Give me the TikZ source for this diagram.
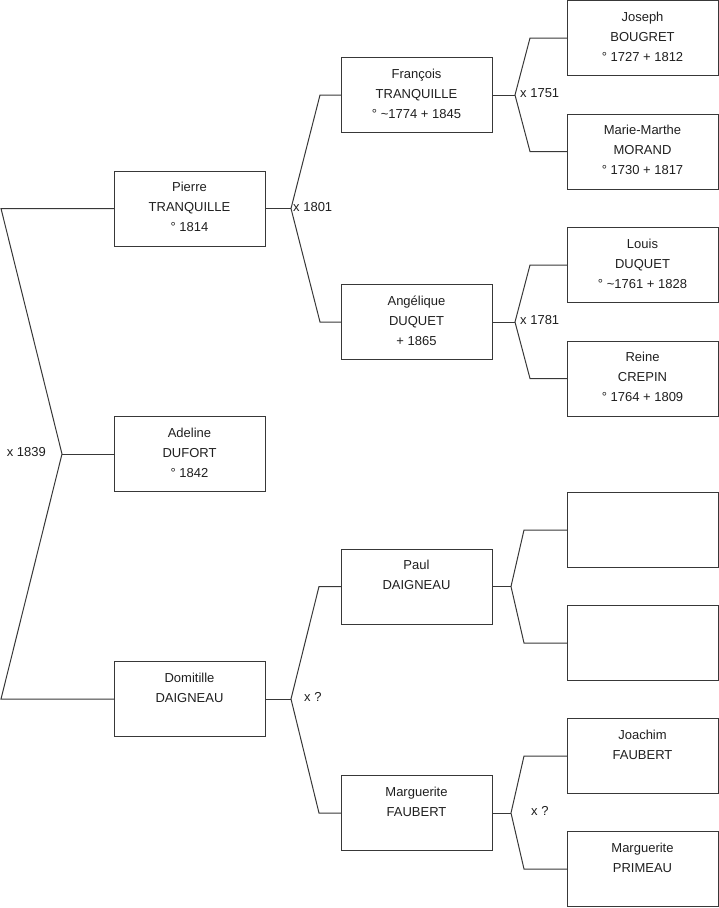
\documentclass[tikz,border=0pt]{standalone}
\usepackage{fontspec}
\setmainfont{Liberation Sans}
\begin{document}
\begin{tikzpicture}[x=1pt,y=-1pt]
\tikzset{
  box/.style={draw=black!78, line width=1pt, minimum width=151pt, minimum height=75pt, inner sep=0pt, outer sep=0pt, anchor=north west},
  txt/.style={anchor=north, inner sep=0pt, align=center, font=\fontsize{13}{20}\selectfont, text=black!88, execute at begin node={\rule{0pt}{10pt}}},
  link/.style={draw=black!78, line width=1pt},
  lbl/.style={inner sep=0pt, font=\fontsize{13}{16}\selectfont, text=black!88}
}
\useasboundingbox (0,0) rectangle (719,908);

% column 1
\node[box] (pierre) at (114,171) {};
\node[box] (adeline) at (114,416.5) {};
\node[box] (domitille) at (114,661.5) {};
% column 2
\node[box] (francois) at (341,57.5) {};
\node[box] (angelique) at (341,284.5) {};
\node[box] (paul) at (341,549) {};
\node[box] (margf) at (341,775.5) {};
% column 3
\node[box] (joseph) at (567,0.5) {};
\node[box] (marie) at (567,114) {};
\node[box] (louis) at (567,227.5) {};
\node[box] (reine) at (567,341) {};
\node[box] (empty1) at (567,492.5) {};
\node[box] (empty2) at (567,605.5) {};
\node[box] (joachim) at (567,718.5) {};
\node[box] (primeau) at (567,831.5) {};

% texts
\node[txt] (pierre-t) at ([yshift=-11pt]pierre.north) {Pierre\\TRANQUILLE\\° 1814};
\node[txt] (adeline-t) at ([yshift=-11pt]adeline.north) {Adeline\\DUFORT\\° 1842};
\node[txt] (domitille-t) at ([yshift=-11pt]domitille.north) {Domitille\\DAIGNEAU};
\node[txt] (francois-t) at ([yshift=-11pt]francois.north) {François\\TRANQUILLE\\° \textasciitilde 1774 + 1845};
\node[txt] (angelique-t) at ([yshift=-11pt]angelique.north) {Angélique\\DUQUET\\+ 1865};
\node[txt] (paul-t) at ([yshift=-11pt]paul.north) {Paul\\DAIGNEAU};
\node[txt] (margf-t) at ([yshift=-11pt]margf.north) {Marguerite\\FAUBERT};
\node[txt] (joseph-t) at ([yshift=-11pt]joseph.north) {Joseph\\BOUGRET\\° 1727 + 1812};
\node[txt] (marie-t) at ([yshift=-11pt]marie.north) {Marie-Marthe\\MORAND\\° 1730 + 1817};
\node[txt] (louis-t) at ([yshift=-11pt]louis.north) {Louis\\DUQUET\\° \textasciitilde 1761 + 1828};
\node[txt] (reine-t) at ([yshift=-11pt]reine.north) {Reine\\CREPIN\\° 1764 + 1809};
\node[txt] (joachim-t) at ([yshift=-11pt]joachim.north) {Joachim\\FAUBERT};
\node[txt] (primeau-t) at ([yshift=-11pt]primeau.north) {Marguerite\\PRIMEAU};

% junction points
\coordinate (a0) at (62,454);
\coordinate (a0t) at (1,208.5);
\coordinate (a0b) at (1,699);
\coordinate (a1) at (291,208.5);
\coordinate (a1t) at (320,95);
\coordinate (a1b) at (320,322);
\coordinate (a2) at (291,699);
\coordinate (a2t) at (319,586.5);
\coordinate (a2b) at (319,813);
\coordinate (a3) at (515,95);
\coordinate (a3t) at (530,38);
\coordinate (a3b) at (530,151.5);
\coordinate (a4) at (515,322);
\coordinate (a4t) at (530,265);
\coordinate (a4b) at (530,378.5);
\coordinate (a5) at (511,586.5);
\coordinate (a5t) at (524,530);
\coordinate (a5b) at (524,643);
\coordinate (a6) at (511,813);
\coordinate (a6t) at (524,756);
\coordinate (a6b) at (524,869);

% connectors
\draw[link] (pierre.west) -- (a0t) -- (a0) -- (a0b) -- (domitille.west);
\draw[link] (a0) -- (adeline.west);
\draw[link] (francois.west) -- (a1t) -- (a1) -- (a1b) -- (angelique.west);
\draw[link] (a1) -- (pierre.east);
\draw[link] (paul.west) -- (a2t) -- (a2) -- (a2b) -- (margf.west);
\draw[link] (a2) -- (domitille.east);
\draw[link] (joseph.west) -- (a3t) -- (a3) -- (a3b) -- (marie.west);
\draw[link] (a3) -- (francois.east);
\draw[link] (louis.west) -- (a4t) -- (a4) -- (a4b) -- (reine.west);
\draw[link] (a4) -- (angelique.east);
\draw[link] (empty1.west) -- (a5t) -- (a5) -- (a5b) -- (empty2.west);
\draw[link] (a5) -- (paul.east);
\draw[link] (joachim.west) -- (a6t) -- (a6) -- (a6b) -- (primeau.west);
\draw[link] (a6) -- (margf.east);

% marriage labels
\node[lbl, anchor=base east] (m0) at (46,456) {x 1839};
\node[lbl, anchor=base west] (m1) at (293,211) {x 1801};
\node[lbl, anchor=base west] (m2) at (304,701.5) {x ?};
\node[lbl, anchor=base west] (m3) at (520,97.5) {x 1751};
\node[lbl, anchor=base west] (m4) at (520,324.5) {x 1781};
\node[lbl, anchor=base west] (m6) at (531,815.5) {x ?};
\end{tikzpicture}
\end{document}
